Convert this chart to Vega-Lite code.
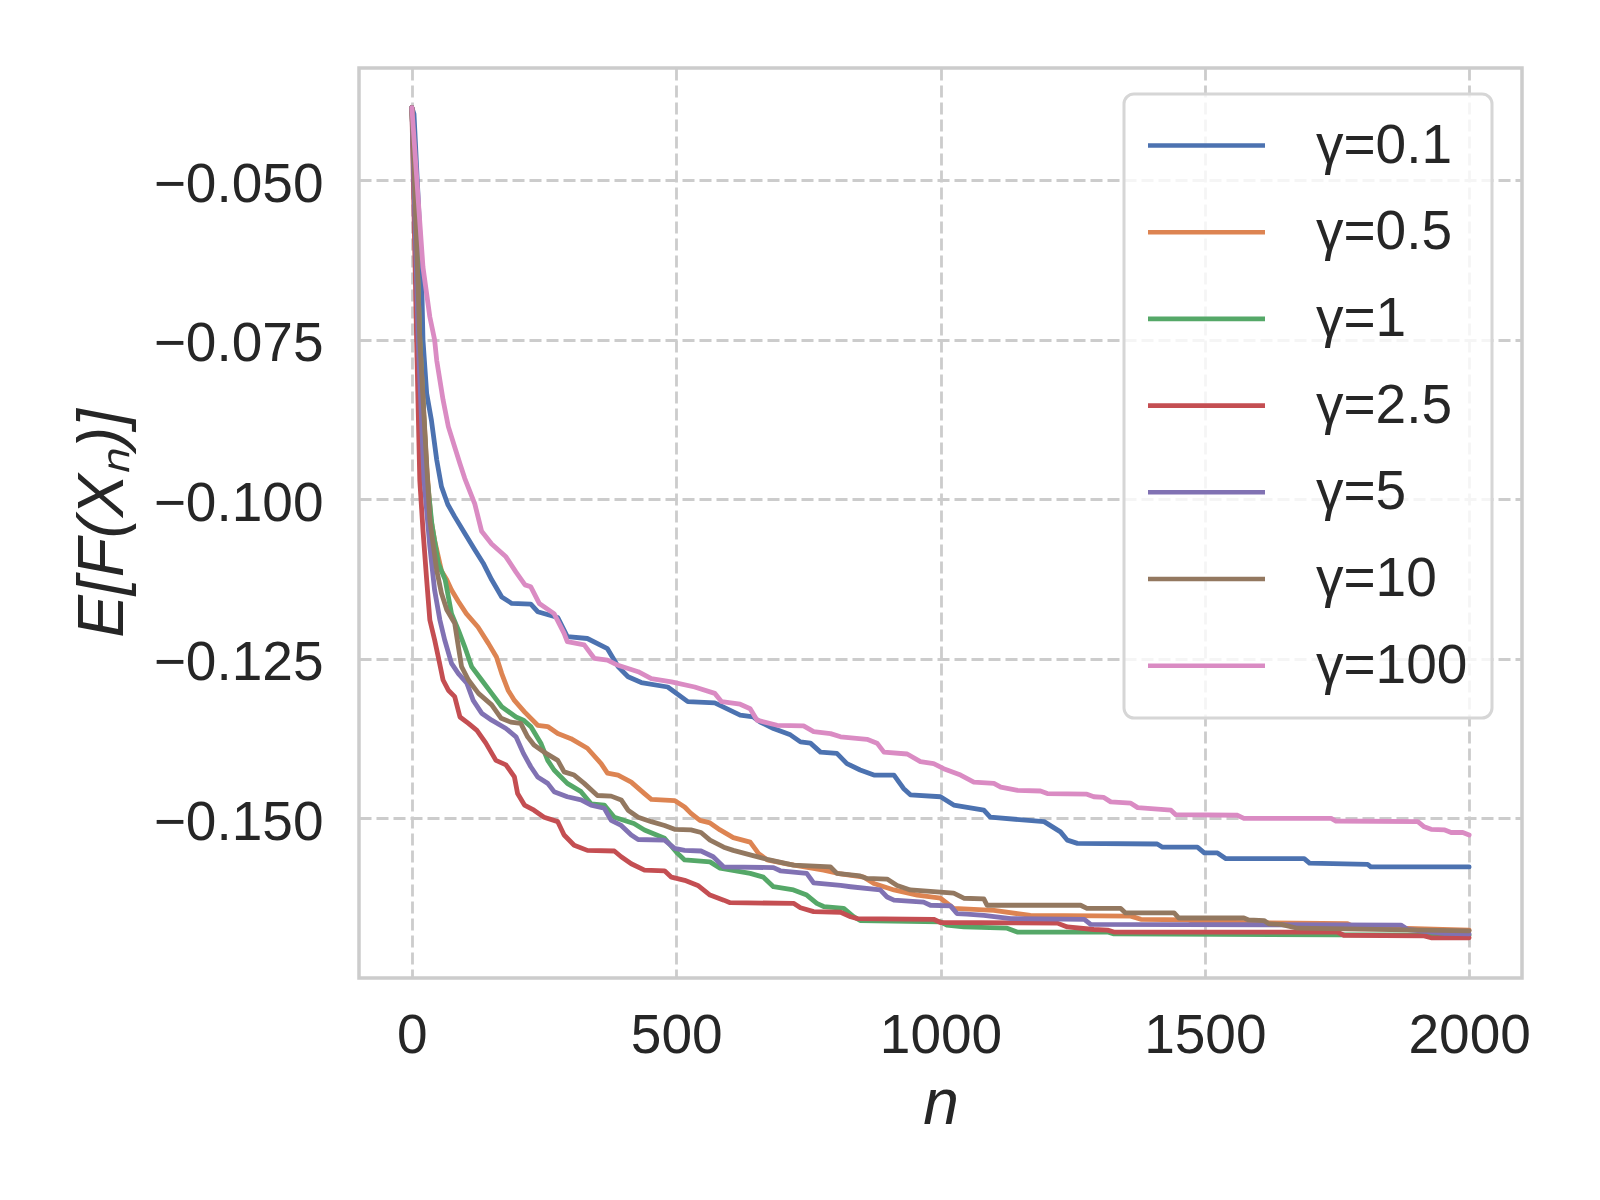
{
  "$schema": "https://vega.github.io/schema/vega-lite/v6.json",
  "width": 1163,
  "height": 910,
  "autosize": {"type": "none"},
  "padding": {"left": 359, "top": 68, "right": 78, "bottom": 222},
  "background": "white",
  "datasets": {
    "runs": [
      {"gamma": "γ=0.1", "n": 0, "value": -0.0386},
      {"gamma": "γ=0.1", "n": 4, "value": -0.0396},
      {"gamma": "γ=0.1", "n": 12, "value": -0.053},
      {"gamma": "γ=0.1", "n": 18, "value": -0.0636},
      {"gamma": "γ=0.1", "n": 21, "value": -0.075},
      {"gamma": "γ=0.1", "n": 28, "value": -0.0834},
      {"gamma": "γ=0.1", "n": 37, "value": -0.0876},
      {"gamma": "γ=0.1", "n": 47, "value": -0.0938},
      {"gamma": "γ=0.1", "n": 56, "value": -0.098},
      {"gamma": "γ=0.1", "n": 68, "value": -0.1008},
      {"gamma": "γ=0.1", "n": 81, "value": -0.1027},
      {"gamma": "γ=0.1", "n": 100, "value": -0.1053},
      {"gamma": "γ=0.1", "n": 119, "value": -0.1079},
      {"gamma": "γ=0.1", "n": 135, "value": -0.11},
      {"gamma": "γ=0.1", "n": 151, "value": -0.1126},
      {"gamma": "γ=0.1", "n": 170, "value": -0.1153},
      {"gamma": "γ=0.1", "n": 189, "value": -0.1163},
      {"gamma": "γ=0.1", "n": 225, "value": -0.1164},
      {"gamma": "γ=0.1", "n": 238, "value": -0.1176},
      {"gamma": "γ=0.1", "n": 276, "value": -0.1185},
      {"gamma": "γ=0.1", "n": 294, "value": -0.1215},
      {"gamma": "γ=0.1", "n": 332, "value": -0.1218},
      {"gamma": "γ=0.1", "n": 370, "value": -0.1234},
      {"gamma": "γ=0.1", "n": 390, "value": -0.1262},
      {"gamma": "γ=0.1", "n": 409, "value": -0.1278},
      {"gamma": "γ=0.1", "n": 434, "value": -0.1287},
      {"gamma": "γ=0.1", "n": 484, "value": -0.1294},
      {"gamma": "γ=0.1", "n": 522, "value": -0.1317},
      {"gamma": "γ=0.1", "n": 573, "value": -0.1319},
      {"gamma": "γ=0.1", "n": 621, "value": -0.1338},
      {"gamma": "γ=0.1", "n": 646, "value": -0.1341},
      {"gamma": "γ=0.1", "n": 659, "value": -0.1349},
      {"gamma": "γ=0.1", "n": 684, "value": -0.1359},
      {"gamma": "γ=0.1", "n": 716, "value": -0.1369},
      {"gamma": "γ=0.1", "n": 735, "value": -0.138},
      {"gamma": "γ=0.1", "n": 754, "value": -0.1382},
      {"gamma": "γ=0.1", "n": 773, "value": -0.1396},
      {"gamma": "γ=0.1", "n": 804, "value": -0.1398},
      {"gamma": "γ=0.1", "n": 823, "value": -0.1414},
      {"gamma": "γ=0.1", "n": 848, "value": -0.1424},
      {"gamma": "γ=0.1", "n": 874, "value": -0.1432},
      {"gamma": "γ=0.1", "n": 912, "value": -0.1432},
      {"gamma": "γ=0.1", "n": 930, "value": -0.1453},
      {"gamma": "γ=0.1", "n": 943, "value": -0.1463},
      {"gamma": "γ=0.1", "n": 1000, "value": -0.1466},
      {"gamma": "γ=0.1", "n": 1025, "value": -0.1479},
      {"gamma": "γ=0.1", "n": 1082, "value": -0.1487},
      {"gamma": "γ=0.1", "n": 1094, "value": -0.1498},
      {"gamma": "γ=0.1", "n": 1196, "value": -0.1505},
      {"gamma": "γ=0.1", "n": 1227, "value": -0.1521},
      {"gamma": "γ=0.1", "n": 1240, "value": -0.1534},
      {"gamma": "γ=0.1", "n": 1259, "value": -0.1539},
      {"gamma": "γ=0.1", "n": 1410, "value": -0.154},
      {"gamma": "γ=0.1", "n": 1420, "value": -0.1545},
      {"gamma": "γ=0.1", "n": 1486, "value": -0.1545},
      {"gamma": "γ=0.1", "n": 1499, "value": -0.1554},
      {"gamma": "γ=0.1", "n": 1524, "value": -0.1554},
      {"gamma": "γ=0.1", "n": 1540, "value": -0.1563},
      {"gamma": "γ=0.1", "n": 1688, "value": -0.1563},
      {"gamma": "γ=0.1", "n": 1698, "value": -0.157},
      {"gamma": "γ=0.1", "n": 1808, "value": -0.1572},
      {"gamma": "γ=0.1", "n": 1814, "value": -0.1576},
      {"gamma": "γ=0.1", "n": 2000, "value": -0.1576},

      {"gamma": "γ=0.5", "n": 0, "value": -0.0386},
      {"gamma": "γ=0.5", "n": 5, "value": -0.05},
      {"gamma": "γ=0.5", "n": 15, "value": -0.075},
      {"gamma": "γ=0.5", "n": 28, "value": -0.095},
      {"gamma": "γ=0.5", "n": 36, "value": -0.103},
      {"gamma": "γ=0.5", "n": 43, "value": -0.1064},
      {"gamma": "γ=0.5", "n": 56, "value": -0.1112},
      {"gamma": "γ=0.5", "n": 66, "value": -0.1126},
      {"gamma": "γ=0.5", "n": 75, "value": -0.1142},
      {"gamma": "γ=0.5", "n": 88, "value": -0.116},
      {"gamma": "γ=0.5", "n": 103, "value": -0.1179},
      {"gamma": "γ=0.5", "n": 125, "value": -0.12},
      {"gamma": "γ=0.5", "n": 145, "value": -0.1226},
      {"gamma": "γ=0.5", "n": 160, "value": -0.1247},
      {"gamma": "γ=0.5", "n": 170, "value": -0.1273},
      {"gamma": "γ=0.5", "n": 182, "value": -0.1299},
      {"gamma": "γ=0.5", "n": 194, "value": -0.1315},
      {"gamma": "γ=0.5", "n": 213, "value": -0.1333},
      {"gamma": "γ=0.5", "n": 238, "value": -0.1354},
      {"gamma": "γ=0.5", "n": 257, "value": -0.1356},
      {"gamma": "γ=0.5", "n": 276, "value": -0.1367},
      {"gamma": "γ=0.5", "n": 301, "value": -0.1375},
      {"gamma": "γ=0.5", "n": 332, "value": -0.139},
      {"gamma": "γ=0.5", "n": 358, "value": -0.1414},
      {"gamma": "γ=0.5", "n": 370, "value": -0.1429},
      {"gamma": "γ=0.5", "n": 390, "value": -0.1432},
      {"gamma": "γ=0.5", "n": 415, "value": -0.1443},
      {"gamma": "γ=0.5", "n": 440, "value": -0.1461},
      {"gamma": "γ=0.5", "n": 453, "value": -0.147},
      {"gamma": "γ=0.5", "n": 497, "value": -0.1472},
      {"gamma": "γ=0.5", "n": 516, "value": -0.1482},
      {"gamma": "γ=0.5", "n": 528, "value": -0.1492},
      {"gamma": "γ=0.5", "n": 545, "value": -0.1503},
      {"gamma": "γ=0.5", "n": 564, "value": -0.1507},
      {"gamma": "γ=0.5", "n": 583, "value": -0.1518},
      {"gamma": "γ=0.5", "n": 608, "value": -0.153},
      {"gamma": "γ=0.5", "n": 640, "value": -0.1537},
      {"gamma": "γ=0.5", "n": 656, "value": -0.1555},
      {"gamma": "γ=0.5", "n": 672, "value": -0.1565},
      {"gamma": "γ=0.5", "n": 709, "value": -0.1571},
      {"gamma": "γ=0.5", "n": 779, "value": -0.1581},
      {"gamma": "γ=0.5", "n": 811, "value": -0.1587},
      {"gamma": "γ=0.5", "n": 855, "value": -0.1592},
      {"gamma": "γ=0.5", "n": 874, "value": -0.1602},
      {"gamma": "γ=0.5", "n": 912, "value": -0.1612},
      {"gamma": "γ=0.5", "n": 956, "value": -0.162},
      {"gamma": "γ=0.5", "n": 1000, "value": -0.1625},
      {"gamma": "γ=0.5", "n": 1025, "value": -0.1641},
      {"gamma": "γ=0.5", "n": 1101, "value": -0.1644},
      {"gamma": "γ=0.5", "n": 1170, "value": -0.1652},
      {"gamma": "γ=0.5", "n": 1360, "value": -0.1653},
      {"gamma": "γ=0.5", "n": 1379, "value": -0.1658},
      {"gamma": "γ=0.5", "n": 1470, "value": -0.1659},
      {"gamma": "γ=0.5", "n": 1479, "value": -0.1662},
      {"gamma": "γ=0.5", "n": 1770, "value": -0.1665},
      {"gamma": "γ=0.5", "n": 1782, "value": -0.167},
      {"gamma": "γ=0.5", "n": 2000, "value": -0.1675},

      {"gamma": "γ=1", "n": 0, "value": -0.0386},
      {"gamma": "γ=1", "n": 5, "value": -0.05},
      {"gamma": "γ=1", "n": 15, "value": -0.075},
      {"gamma": "γ=1", "n": 28, "value": -0.096},
      {"gamma": "γ=1", "n": 38, "value": -0.104},
      {"gamma": "γ=1", "n": 50, "value": -0.11},
      {"gamma": "γ=1", "n": 63, "value": -0.1126},
      {"gamma": "γ=1", "n": 75, "value": -0.1179},
      {"gamma": "γ=1", "n": 88, "value": -0.1205},
      {"gamma": "γ=1", "n": 100, "value": -0.1231},
      {"gamma": "γ=1", "n": 113, "value": -0.1262},
      {"gamma": "γ=1", "n": 132, "value": -0.1283},
      {"gamma": "γ=1", "n": 151, "value": -0.1304},
      {"gamma": "γ=1", "n": 170, "value": -0.1325},
      {"gamma": "γ=1", "n": 197, "value": -0.1341},
      {"gamma": "γ=1", "n": 211, "value": -0.1346},
      {"gamma": "γ=1", "n": 225, "value": -0.1356},
      {"gamma": "γ=1", "n": 244, "value": -0.1382},
      {"gamma": "γ=1", "n": 257, "value": -0.1409},
      {"gamma": "γ=1", "n": 269, "value": -0.1424},
      {"gamma": "γ=1", "n": 294, "value": -0.1445},
      {"gamma": "γ=1", "n": 320, "value": -0.1458},
      {"gamma": "γ=1", "n": 339, "value": -0.1477},
      {"gamma": "γ=1", "n": 364, "value": -0.1479},
      {"gamma": "γ=1", "n": 383, "value": -0.1498},
      {"gamma": "γ=1", "n": 420, "value": -0.1508},
      {"gamma": "γ=1", "n": 440, "value": -0.1518},
      {"gamma": "γ=1", "n": 478, "value": -0.1531},
      {"gamma": "γ=1", "n": 503, "value": -0.1555},
      {"gamma": "γ=1", "n": 516, "value": -0.1565},
      {"gamma": "γ=1", "n": 564, "value": -0.1568},
      {"gamma": "γ=1", "n": 583, "value": -0.1578},
      {"gamma": "γ=1", "n": 640, "value": -0.1586},
      {"gamma": "γ=1", "n": 665, "value": -0.1592},
      {"gamma": "γ=1", "n": 684, "value": -0.1607},
      {"gamma": "γ=1", "n": 722, "value": -0.1612},
      {"gamma": "γ=1", "n": 747, "value": -0.162},
      {"gamma": "γ=1", "n": 766, "value": -0.1633},
      {"gamma": "γ=1", "n": 779, "value": -0.1638},
      {"gamma": "γ=1", "n": 817, "value": -0.1641},
      {"gamma": "γ=1", "n": 836, "value": -0.1654},
      {"gamma": "γ=1", "n": 848, "value": -0.166},
      {"gamma": "γ=1", "n": 1000, "value": -0.1662},
      {"gamma": "γ=1", "n": 1012, "value": -0.1667},
      {"gamma": "γ=1", "n": 1044, "value": -0.167},
      {"gamma": "γ=1", "n": 1126, "value": -0.1672},
      {"gamma": "γ=1", "n": 1145, "value": -0.1678},
      {"gamma": "γ=1", "n": 1316, "value": -0.1678},
      {"gamma": "γ=1", "n": 1328, "value": -0.1681},
      {"gamma": "γ=1", "n": 2000, "value": -0.1683},

      {"gamma": "γ=2.5", "n": 0, "value": -0.0386},
      {"gamma": "γ=2.5", "n": 9, "value": -0.075},
      {"gamma": "γ=2.5", "n": 15, "value": -0.097},
      {"gamma": "γ=2.5", "n": 21, "value": -0.1048},
      {"gamma": "γ=2.5", "n": 28, "value": -0.1126},
      {"gamma": "γ=2.5", "n": 34, "value": -0.1189},
      {"gamma": "γ=2.5", "n": 43, "value": -0.122},
      {"gamma": "γ=2.5", "n": 50, "value": -0.1247},
      {"gamma": "γ=2.5", "n": 59, "value": -0.1283},
      {"gamma": "γ=2.5", "n": 69, "value": -0.1299},
      {"gamma": "γ=2.5", "n": 81, "value": -0.1309},
      {"gamma": "γ=2.5", "n": 91, "value": -0.1341},
      {"gamma": "γ=2.5", "n": 107, "value": -0.1351},
      {"gamma": "γ=2.5", "n": 123, "value": -0.1362},
      {"gamma": "γ=2.5", "n": 140, "value": -0.1382},
      {"gamma": "γ=2.5", "n": 159, "value": -0.1409},
      {"gamma": "γ=2.5", "n": 178, "value": -0.1416},
      {"gamma": "γ=2.5", "n": 194, "value": -0.1435},
      {"gamma": "γ=2.5", "n": 200, "value": -0.1461},
      {"gamma": "γ=2.5", "n": 213, "value": -0.1479},
      {"gamma": "γ=2.5", "n": 231, "value": -0.1487},
      {"gamma": "γ=2.5", "n": 250, "value": -0.1498},
      {"gamma": "γ=2.5", "n": 276, "value": -0.1505},
      {"gamma": "γ=2.5", "n": 288, "value": -0.1526},
      {"gamma": "γ=2.5", "n": 307, "value": -0.1542},
      {"gamma": "γ=2.5", "n": 332, "value": -0.155},
      {"gamma": "γ=2.5", "n": 383, "value": -0.1551},
      {"gamma": "γ=2.5", "n": 396, "value": -0.156},
      {"gamma": "γ=2.5", "n": 415, "value": -0.1571},
      {"gamma": "γ=2.5", "n": 440, "value": -0.1581},
      {"gamma": "γ=2.5", "n": 478, "value": -0.1582},
      {"gamma": "γ=2.5", "n": 491, "value": -0.1592},
      {"gamma": "γ=2.5", "n": 516, "value": -0.1597},
      {"gamma": "γ=2.5", "n": 541, "value": -0.1605},
      {"gamma": "γ=2.5", "n": 564, "value": -0.162},
      {"gamma": "γ=2.5", "n": 590, "value": -0.1628},
      {"gamma": "γ=2.5", "n": 602, "value": -0.1632},
      {"gamma": "γ=2.5", "n": 722, "value": -0.1633},
      {"gamma": "γ=2.5", "n": 735, "value": -0.164},
      {"gamma": "γ=2.5", "n": 760, "value": -0.1646},
      {"gamma": "γ=2.5", "n": 811, "value": -0.1647},
      {"gamma": "γ=2.5", "n": 830, "value": -0.1654},
      {"gamma": "γ=2.5", "n": 843, "value": -0.1657},
      {"gamma": "γ=2.5", "n": 987, "value": -0.1658},
      {"gamma": "γ=2.5", "n": 1000, "value": -0.1663},
      {"gamma": "γ=2.5", "n": 1221, "value": -0.1664},
      {"gamma": "γ=2.5", "n": 1240, "value": -0.167},
      {"gamma": "γ=2.5", "n": 1290, "value": -0.1674},
      {"gamma": "γ=2.5", "n": 1316, "value": -0.1675},
      {"gamma": "γ=2.5", "n": 1328, "value": -0.1678},
      {"gamma": "γ=2.5", "n": 1751, "value": -0.1678},
      {"gamma": "γ=2.5", "n": 1763, "value": -0.1683},
      {"gamma": "γ=2.5", "n": 1915, "value": -0.1684},
      {"gamma": "γ=2.5", "n": 1928, "value": -0.1687},
      {"gamma": "γ=2.5", "n": 2000, "value": -0.1687},

      {"gamma": "γ=5", "n": 0, "value": -0.0386},
      {"gamma": "γ=5", "n": 12, "value": -0.075},
      {"gamma": "γ=5", "n": 23, "value": -0.097},
      {"gamma": "γ=5", "n": 34, "value": -0.1074},
      {"gamma": "γ=5", "n": 43, "value": -0.1142},
      {"gamma": "γ=5", "n": 53, "value": -0.1189},
      {"gamma": "γ=5", "n": 62, "value": -0.122},
      {"gamma": "γ=5", "n": 75, "value": -0.1257},
      {"gamma": "γ=5", "n": 88, "value": -0.1273},
      {"gamma": "γ=5", "n": 104, "value": -0.1288},
      {"gamma": "γ=5", "n": 116, "value": -0.1315},
      {"gamma": "γ=5", "n": 132, "value": -0.1335},
      {"gamma": "γ=5", "n": 151, "value": -0.1346},
      {"gamma": "γ=5", "n": 178, "value": -0.1359},
      {"gamma": "γ=5", "n": 197, "value": -0.1372},
      {"gamma": "γ=5", "n": 211, "value": -0.1398},
      {"gamma": "γ=5", "n": 225, "value": -0.1419},
      {"gamma": "γ=5", "n": 238, "value": -0.1435},
      {"gamma": "γ=5", "n": 257, "value": -0.1445},
      {"gamma": "γ=5", "n": 269, "value": -0.1458},
      {"gamma": "γ=5", "n": 294, "value": -0.1466},
      {"gamma": "γ=5", "n": 320, "value": -0.1471},
      {"gamma": "γ=5", "n": 339, "value": -0.1479},
      {"gamma": "γ=5", "n": 364, "value": -0.1484},
      {"gamma": "γ=5", "n": 377, "value": -0.1503},
      {"gamma": "γ=5", "n": 396, "value": -0.1511},
      {"gamma": "γ=5", "n": 415, "value": -0.1526},
      {"gamma": "γ=5", "n": 428, "value": -0.1533},
      {"gamma": "γ=5", "n": 478, "value": -0.1534},
      {"gamma": "γ=5", "n": 497, "value": -0.1547},
      {"gamma": "γ=5", "n": 516, "value": -0.155},
      {"gamma": "γ=5", "n": 547, "value": -0.1551},
      {"gamma": "γ=5", "n": 570, "value": -0.156},
      {"gamma": "γ=5", "n": 590, "value": -0.1576},
      {"gamma": "γ=5", "n": 684, "value": -0.1577},
      {"gamma": "γ=5", "n": 697, "value": -0.1582},
      {"gamma": "γ=5", "n": 747, "value": -0.1586},
      {"gamma": "γ=5", "n": 760, "value": -0.1601},
      {"gamma": "γ=5", "n": 811, "value": -0.1605},
      {"gamma": "γ=5", "n": 830, "value": -0.1607},
      {"gamma": "γ=5", "n": 886, "value": -0.1612},
      {"gamma": "γ=5", "n": 899, "value": -0.1623},
      {"gamma": "γ=5", "n": 912, "value": -0.1628},
      {"gamma": "γ=5", "n": 968, "value": -0.1631},
      {"gamma": "γ=5", "n": 981, "value": -0.1636},
      {"gamma": "γ=5", "n": 1019, "value": -0.1637},
      {"gamma": "γ=5", "n": 1031, "value": -0.1649},
      {"gamma": "γ=5", "n": 1050, "value": -0.165},
      {"gamma": "γ=5", "n": 1082, "value": -0.1652},
      {"gamma": "γ=5", "n": 1133, "value": -0.1657},
      {"gamma": "γ=5", "n": 1272, "value": -0.1658},
      {"gamma": "γ=5", "n": 1284, "value": -0.1666},
      {"gamma": "γ=5", "n": 1871, "value": -0.1667},
      {"gamma": "γ=5", "n": 1884, "value": -0.1674},
      {"gamma": "γ=5", "n": 1954, "value": -0.168},
      {"gamma": "γ=5", "n": 2000, "value": -0.1681},

      {"gamma": "γ=10", "n": 0, "value": -0.0386},
      {"gamma": "γ=10", "n": 5, "value": -0.05},
      {"gamma": "γ=10", "n": 15, "value": -0.075},
      {"gamma": "γ=10", "n": 25, "value": -0.09},
      {"gamma": "γ=10", "n": 34, "value": -0.1032},
      {"gamma": "γ=10", "n": 47, "value": -0.1111},
      {"gamma": "γ=10", "n": 56, "value": -0.1147},
      {"gamma": "γ=10", "n": 66, "value": -0.1173},
      {"gamma": "γ=10", "n": 81, "value": -0.1194},
      {"gamma": "γ=10", "n": 88, "value": -0.1231},
      {"gamma": "γ=10", "n": 94, "value": -0.1262},
      {"gamma": "γ=10", "n": 107, "value": -0.1283},
      {"gamma": "γ=10", "n": 126, "value": -0.1304},
      {"gamma": "γ=10", "n": 151, "value": -0.1322},
      {"gamma": "γ=10", "n": 169, "value": -0.1343},
      {"gamma": "γ=10", "n": 187, "value": -0.1349},
      {"gamma": "γ=10", "n": 206, "value": -0.1351},
      {"gamma": "γ=10", "n": 219, "value": -0.1372},
      {"gamma": "γ=10", "n": 231, "value": -0.1385},
      {"gamma": "γ=10", "n": 250, "value": -0.1396},
      {"gamma": "γ=10", "n": 276, "value": -0.1409},
      {"gamma": "γ=10", "n": 288, "value": -0.1427},
      {"gamma": "γ=10", "n": 307, "value": -0.1432},
      {"gamma": "γ=10", "n": 326, "value": -0.1445},
      {"gamma": "γ=10", "n": 351, "value": -0.1464},
      {"gamma": "γ=10", "n": 377, "value": -0.1465},
      {"gamma": "γ=10", "n": 396, "value": -0.1471},
      {"gamma": "γ=10", "n": 409, "value": -0.1487},
      {"gamma": "γ=10", "n": 428, "value": -0.1498},
      {"gamma": "γ=10", "n": 453, "value": -0.1505},
      {"gamma": "γ=10", "n": 478, "value": -0.1511},
      {"gamma": "γ=10", "n": 497, "value": -0.1517},
      {"gamma": "γ=10", "n": 528, "value": -0.1518},
      {"gamma": "γ=10", "n": 547, "value": -0.1522},
      {"gamma": "γ=10", "n": 564, "value": -0.1534},
      {"gamma": "γ=10", "n": 590, "value": -0.1545},
      {"gamma": "γ=10", "n": 608, "value": -0.155},
      {"gamma": "γ=10", "n": 640, "value": -0.1557},
      {"gamma": "γ=10", "n": 672, "value": -0.1564},
      {"gamma": "γ=10", "n": 722, "value": -0.1573},
      {"gamma": "γ=10", "n": 792, "value": -0.1576},
      {"gamma": "γ=10", "n": 804, "value": -0.1586},
      {"gamma": "γ=10", "n": 848, "value": -0.159},
      {"gamma": "γ=10", "n": 861, "value": -0.1594},
      {"gamma": "γ=10", "n": 899, "value": -0.1595},
      {"gamma": "γ=10", "n": 918, "value": -0.1605},
      {"gamma": "γ=10", "n": 943, "value": -0.1612},
      {"gamma": "γ=10", "n": 1025, "value": -0.1617},
      {"gamma": "γ=10", "n": 1044, "value": -0.1625},
      {"gamma": "γ=10", "n": 1082, "value": -0.1626},
      {"gamma": "γ=10", "n": 1088, "value": -0.1636},
      {"gamma": "γ=10", "n": 1265, "value": -0.1636},
      {"gamma": "γ=10", "n": 1277, "value": -0.1641},
      {"gamma": "γ=10", "n": 1341, "value": -0.1641},
      {"gamma": "γ=10", "n": 1350, "value": -0.1648},
      {"gamma": "γ=10", "n": 1442, "value": -0.1648},
      {"gamma": "γ=10", "n": 1451, "value": -0.1656},
      {"gamma": "γ=10", "n": 1574, "value": -0.1656},
      {"gamma": "γ=10", "n": 1583, "value": -0.1659},
      {"gamma": "γ=10", "n": 1612, "value": -0.166},
      {"gamma": "γ=10", "n": 1621, "value": -0.1665},
      {"gamma": "γ=10", "n": 1644, "value": -0.1666},
      {"gamma": "γ=10", "n": 1675, "value": -0.1672},
      {"gamma": "γ=10", "n": 2000, "value": -0.1676},

      {"gamma": "γ=100", "n": 0, "value": -0.0386},
      {"gamma": "γ=100", "n": 12, "value": -0.053},
      {"gamma": "γ=100", "n": 21, "value": -0.0636},
      {"gamma": "γ=100", "n": 34, "value": -0.0714},
      {"gamma": "γ=100", "n": 43, "value": -0.075},
      {"gamma": "γ=100", "n": 47, "value": -0.0782},
      {"gamma": "γ=100", "n": 59, "value": -0.0844},
      {"gamma": "γ=100", "n": 69, "value": -0.0886},
      {"gamma": "γ=100", "n": 81, "value": -0.0918},
      {"gamma": "γ=100", "n": 91, "value": -0.0944},
      {"gamma": "γ=100", "n": 100, "value": -0.0967},
      {"gamma": "γ=100", "n": 119, "value": -0.1007},
      {"gamma": "γ=100", "n": 132, "value": -0.105},
      {"gamma": "γ=100", "n": 151, "value": -0.107},
      {"gamma": "γ=100", "n": 178, "value": -0.109},
      {"gamma": "γ=100", "n": 197, "value": -0.1114},
      {"gamma": "γ=100", "n": 214, "value": -0.1134},
      {"gamma": "γ=100", "n": 225, "value": -0.1137},
      {"gamma": "γ=100", "n": 241, "value": -0.1163},
      {"gamma": "γ=100", "n": 269, "value": -0.1179},
      {"gamma": "γ=100", "n": 288, "value": -0.121},
      {"gamma": "γ=100", "n": 294, "value": -0.1223},
      {"gamma": "γ=100", "n": 326, "value": -0.1228},
      {"gamma": "γ=100", "n": 345, "value": -0.1249},
      {"gamma": "γ=100", "n": 370, "value": -0.1252},
      {"gamma": "γ=100", "n": 390, "value": -0.126},
      {"gamma": "γ=100", "n": 428, "value": -0.127},
      {"gamma": "γ=100", "n": 453, "value": -0.1281},
      {"gamma": "γ=100", "n": 491, "value": -0.1286},
      {"gamma": "γ=100", "n": 535, "value": -0.1294},
      {"gamma": "γ=100", "n": 573, "value": -0.1304},
      {"gamma": "γ=100", "n": 586, "value": -0.1317},
      {"gamma": "γ=100", "n": 621, "value": -0.1321},
      {"gamma": "γ=100", "n": 640, "value": -0.1328},
      {"gamma": "γ=100", "n": 653, "value": -0.1346},
      {"gamma": "γ=100", "n": 691, "value": -0.1354},
      {"gamma": "γ=100", "n": 741, "value": -0.1355},
      {"gamma": "γ=100", "n": 760, "value": -0.1364},
      {"gamma": "γ=100", "n": 792, "value": -0.1367},
      {"gamma": "γ=100", "n": 811, "value": -0.1372},
      {"gamma": "γ=100", "n": 861, "value": -0.1376},
      {"gamma": "γ=100", "n": 880, "value": -0.1382},
      {"gamma": "γ=100", "n": 893, "value": -0.1396},
      {"gamma": "γ=100", "n": 937, "value": -0.1399},
      {"gamma": "γ=100", "n": 962, "value": -0.1411},
      {"gamma": "γ=100", "n": 987, "value": -0.1414},
      {"gamma": "γ=100", "n": 1006, "value": -0.1422},
      {"gamma": "γ=100", "n": 1038, "value": -0.1432},
      {"gamma": "γ=100", "n": 1063, "value": -0.1443},
      {"gamma": "γ=100", "n": 1101, "value": -0.1445},
      {"gamma": "γ=100", "n": 1114, "value": -0.1451},
      {"gamma": "γ=100", "n": 1146, "value": -0.1456},
      {"gamma": "γ=100", "n": 1189, "value": -0.1457},
      {"gamma": "γ=100", "n": 1202, "value": -0.1461},
      {"gamma": "γ=100", "n": 1277, "value": -0.1462},
      {"gamma": "γ=100", "n": 1290, "value": -0.1466},
      {"gamma": "γ=100", "n": 1309, "value": -0.1467},
      {"gamma": "γ=100", "n": 1322, "value": -0.1474},
      {"gamma": "γ=100", "n": 1360, "value": -0.1476},
      {"gamma": "γ=100", "n": 1373, "value": -0.1483},
      {"gamma": "γ=100", "n": 1436, "value": -0.1487},
      {"gamma": "γ=100", "n": 1445, "value": -0.1494},
      {"gamma": "γ=100", "n": 1562, "value": -0.1495},
      {"gamma": "γ=100", "n": 1574, "value": -0.15},
      {"gamma": "γ=100", "n": 1739, "value": -0.15},
      {"gamma": "γ=100", "n": 1748, "value": -0.1504},
      {"gamma": "γ=100", "n": 1903, "value": -0.1505},
      {"gamma": "γ=100", "n": 1915, "value": -0.1513},
      {"gamma": "γ=100", "n": 1928, "value": -0.1517},
      {"gamma": "γ=100", "n": 1954, "value": -0.1518},
      {"gamma": "γ=100", "n": 1966, "value": -0.1522},
      {"gamma": "γ=100", "n": 1988, "value": -0.1522},
      {"gamma": "γ=100", "n": 2000, "value": -0.1526}
    ]
  },
  "data": {"name": "runs"},
  "mark": {"type": "line", "strokeWidth": 4.8, "strokeJoin": "round", "strokeCap": "round", "clip": true},
  "encoding": {
    "x": {
      "field": "n",
      "type": "quantitative",
      "scale": {"domain": [-100, 2100], "nice": false, "zero": false},
      "axis": {
        "values": [0, 500, 1000, 1500, 2000],
        "format": "d",
        "title": "n",
        "labelPadding": 31,
        "titlePadding": 9
      }
    },
    "y": {
      "field": "value",
      "type": "quantitative",
      "scale": {"domain": [-0.175, -0.0324], "nice": false, "zero": false},
      "axis": {
        "values": [-0.15, -0.125, -0.1, -0.075, -0.05],
        "format": ".3f",
        "title": "E[F(Xₙ)]",
        "labelPadding": 36,
        "labelOffset": 4,
        "titlePadding": 24
      }
    },
    "color": {
      "field": "gamma",
      "type": "nominal",
      "scale": {
        "domain": ["γ=0.1", "γ=0.5", "γ=1", "γ=2.5", "γ=5", "γ=10", "γ=100"],
        "range": ["#4C72B0", "#DD8452", "#55A868", "#C44E52", "#8172B3", "#937860", "#DA8BC3"]
      },
      "legend": {
        "title": null,
        "orient": "none",
        "legendX": 765,
        "legendY": 26,
        "symbolType": "M-1.41,0H4.59",
        "symbolSize": 1521,
        "symbolStrokeWidth": 4.6,
        "labelOffset": 113,
        "labelFont": "Liberation Sans",
        "labelFontSize": 55,
        "labelColor": "#262626",
        "labelLimit": 400,
        "rowPadding": 30.7,
        "padding": 24,
        "fillColor": "rgba(255,255,255,0.8)",
        "strokeColor": "#d6d6d6",
        "cornerRadius": 10
      }
    }
  },
  "config": {
    "view": {"stroke": "#cccccc", "strokeWidth": 3.5},
    "legend": {"strokeWidth": 3},
    "axis": {
      "domain": false,
      "ticks": false,
      "tickSize": 0,
      "grid": true,
      "gridColor": "#cccccc",
      "gridDash": [12, 5],
      "gridWidth": 2.8,
      "labelFont": "Liberation Sans",
      "labelFontSize": 55,
      "labelColor": "#262626",
      "titleFont": "Liberation Sans",
      "titleFontSize": 64,
      "titleFontStyle": "italic",
      "titleFontWeight": "normal",
      "titleColor": "#262626"
    }
  }
}
